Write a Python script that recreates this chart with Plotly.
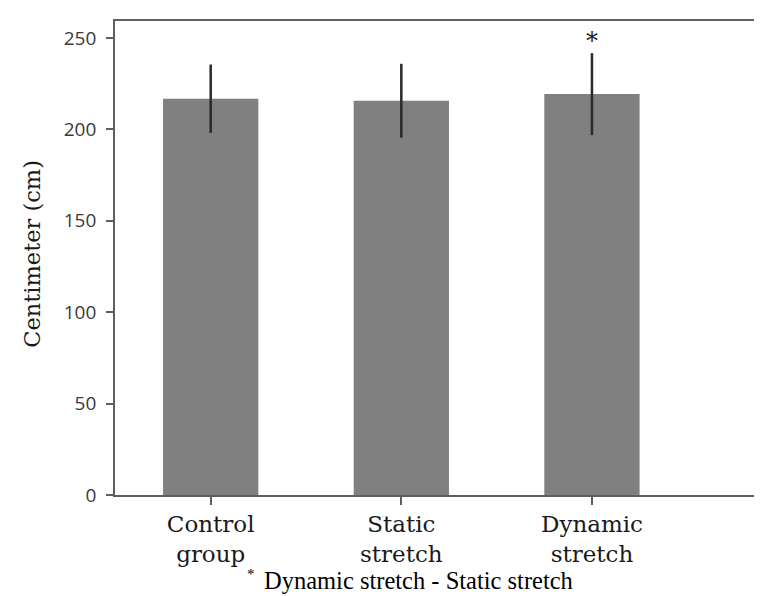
import plotly.graph_objects as go

categories = ["Control<br>group", "Static<br>stretch", "Dynamic<br>stretch"]
means = [216.8, 215.7, 219.3]
errors = [18.7, 20.2, 22.4]
y_ticks = [0, 50, 100, 150, 200, 250]
y_title = "Centimeter (cm)"
sig_index = 2
sig_value = 248.5
footnote_mark = "*"
footnote = "Dynamic stretch - Static stretch"

x_pos = list(range(len(categories)))

fig = go.Figure()
fig.add_trace(go.Bar(
    x=x_pos, y=means, width=0.5,
    marker=dict(color="#808080", line=dict(width=0)),
    error_y=dict(type="data", array=errors, visible=True,
                 color="#2a2a2a", thickness=2.5, width=0),
))

fig.add_annotation(x=x_pos[sig_index], y=sig_value, xref="x", yref="y",
                   text="*", showarrow=False, yanchor="middle",
                   font=dict(family="DejaVu Serif", size=24, color="#1e1e1e"))

fig.add_annotation(x=0.2076, y=-0.1666, xref="paper", yref="paper",
                   text=footnote_mark, showarrow=False, xanchor="center", yanchor="middle",
                   font=dict(family="Liberation Serif", size=15, color="#000000"))
fig.add_annotation(x=0.224, y=-0.1796, xref="paper", yref="paper",
                   text=footnote, showarrow=False, xanchor="left", yanchor="middle",
                   font=dict(family="Liberation Serif", size=24.5, color="#000000"))

fig.add_annotation(x=-0.126, y=0.51, xref="paper", yref="paper",
                   text=y_title, showarrow=False, textangle=-90,
                   xanchor="center", yanchor="middle",
                   font=dict(family="DejaVu Serif", size=22.5, color="#1a1a1a"))

fig.update_layout(
    width=762, height=596,
    margin=dict(l=107, r=0, t=13, b=109),
    paper_bgcolor="white", plot_bgcolor="white",
    showlegend=False,
    xaxis=dict(
        range=[-0.502, 2.934],
        tickvals=x_pos, ticktext=categories,
        showline=True, linecolor="#5f5f5f", linewidth=1.7, mirror=True,
        ticks="outside", ticklen=8, tickwidth=1.5, tickcolor="#5f5f5f",
        tickfont=dict(family="DejaVu Serif", size=23, color="#1a1a1a"),
        showgrid=False, zeroline=False,
    ),
    yaxis=dict(
        range=[0, 259.3],
        tickvals=y_ticks,
        showline=True, linecolor="#5f5f5f", linewidth=1.7,
        ticks="outside", ticklen=7, tickwidth=1.5, tickcolor="#5f5f5f",
        ticklabelstandoff=6,
        tickfont=dict(family="Open Sans", size=19, color="#3a3a3a"),
        showgrid=False, zeroline=False,
    ),
)

fig.write_html("out.html")
